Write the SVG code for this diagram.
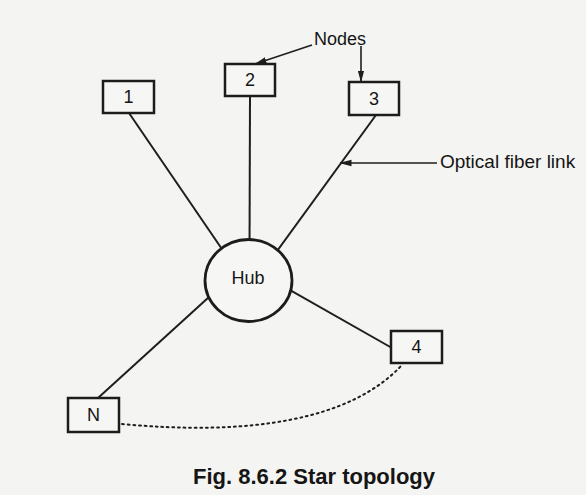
<svg xmlns="http://www.w3.org/2000/svg" width="586" height="495" viewBox="0 0 586 495">
<style>
.bg{fill:#f4f4f2}
.box{fill:#f6f6f4;stroke:#1c1c1c;stroke-width:2.5}
.lbl{font-family:"Liberation Sans",Arial,sans-serif;font-size:18px;fill:#151515;text-anchor:middle;dominant-baseline:central}
.note{font-family:"Liberation Sans",Arial,sans-serif;font-size:18px;fill:#151515}
.link{stroke:#1e1e1e;stroke-width:2;fill:none}
.ptr{stroke:#1e1e1e;stroke-width:1.6;fill:none;marker-end:url(#ah)}
.cap{font-family:"Liberation Sans",Arial,sans-serif;font-size:22px;font-weight:bold;fill:#151515;text-anchor:middle}
</style>
<defs>
<marker id="ah" viewBox="0 0 12 8" refX="11.5" refY="4" markerWidth="12" markerHeight="8" orient="auto" markerUnits="userSpaceOnUse">
<path d="M0,0.8 L12,4 L0,7.2 z" fill="#1e1e1e"/>
</marker>
</defs>
<rect class="bg" x="0" y="0" width="586" height="495"/>
<g id="connectors">
<line class="link" x1="129" y1="113" x2="226" y2="255"/>
<line class="link" x1="250" y1="96" x2="249.5" y2="255"/>
<line class="link" x1="376" y1="115" x2="272" y2="258"/>
<line class="link" x1="280" y1="284.3" x2="392" y2="348"/>
<line class="link" x1="220" y1="287" x2="98" y2="398"/>
<path class="link" d="M122,424 C250,436 350,420 401,366" stroke-dasharray="1.8 3.8" stroke-width="2.3" stroke-linecap="round"/>
<line class="ptr" x1="312" y1="45" x2="255" y2="64"/>
<line class="ptr" x1="361" y1="46" x2="361" y2="82"/>
<line class="ptr" x1="437" y1="163" x2="340" y2="163"/>
</g>
<g id="hub">
<ellipse cx="248.5" cy="280.5" rx="43.5" ry="41" fill="#f6f6f4" stroke="#1c1c1c" stroke-width="2.8"/>
<text class="lbl" x="248" y="278">Hub</text>
</g>
<g id="node1"><rect class="box" x="103" y="81" width="51" height="32"/><text class="lbl" x="128.5" y="97">1</text></g>
<g id="node2"><rect class="box" x="225" y="64" width="50" height="32"/><text class="lbl" x="250" y="80">2</text></g>
<g id="node3"><rect class="box" x="349" y="82" width="50" height="33"/><text class="lbl" x="374" y="98.5">3</text></g>
<g id="node4"><rect class="box" x="391" y="331" width="51" height="32"/><text class="lbl" x="416.5" y="347">4</text></g>
<g id="nodeN"><rect class="box" x="68" y="398" width="51" height="34"/><text class="lbl" x="93.5" y="415">N</text></g>
<g id="labels">
<text class="note" x="314" y="45">Nodes</text>
<text class="note" x="440" y="168" style="font-size:19px">Optical fiber link</text>
<text class="cap" x="314" y="484">Fig. 8.6.2 Star topology</text>
</g>
</svg>
